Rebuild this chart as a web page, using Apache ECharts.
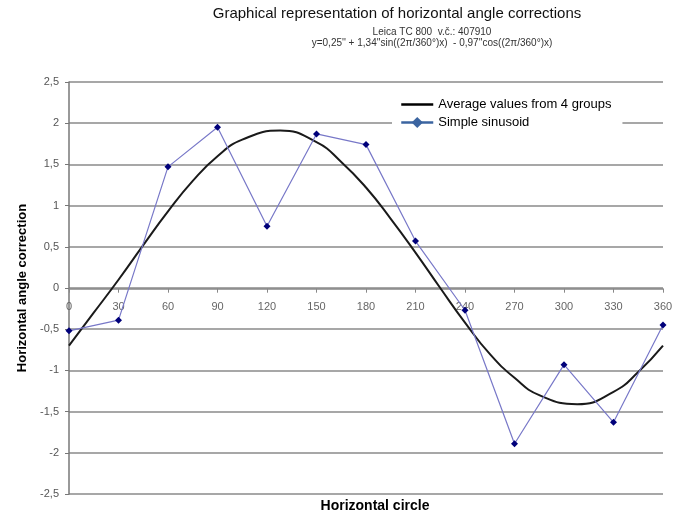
<!DOCTYPE html>
<html>
<head>
<meta charset="utf-8">
<script src="https://cdn.jsdelivr.net/npm/echarts@6/dist/echarts.min.js"></script>
<style>
  html, body { margin: 0; padding: 0; background: #fff; }
  #main { width: 677px; height: 513px; }
</style>
</head>
<body>
<div id="main"></div>
<script>
// measured points (every 30 degrees)
var measAngles = [0, 30, 60, 90, 120, 150, 180, 210, 240, 270, 300, 330, 360];
var measValues = [-0.52, -0.39, 1.47, 1.95, 0.75, 1.87, 1.74, 0.57, -0.27, -1.89, -0.93, -1.63, -0.45];

// fitted curve (peak ~128, trough ~308)
var curveAngles = [0, 15, 30, 45, 60, 75, 90, 105, 128, 150, 165, 180,
  195, 210, 225, 240, 255, 270, 285, 308, 330, 345, 360];
var curveValues = [-0.70, -0.30, 0.10, 0.52, 0.93, 1.30, 1.60, 1.80, 1.91, 1.77, 1.53, 1.22,
  0.84, 0.43, 0.00, -0.42, -0.80, -1.09, -1.30, -1.41, -1.26, -1.02, -0.70];

var chartDom = document.getElementById('main');
var myChart = echarts.init(chartDom);
var font = 'Arial, "Liberation Sans", sans-serif';

function pairs(xs, ys) {
  var out = [];
  for (var i = 0; i < xs.length; i++) out.push([xs[i], ys[i]]);
  return out;
}

var option = {
  animation: false,
  textStyle: { fontFamily: font },
  title: [
    {
      text: 'Graphical representation of horizontal angle corrections',
      left: 397, top: 6, padding: 0, textAlign: 'center',
      textStyle: { fontSize: 15, fontWeight: 'normal', color: '#111', fontFamily: font }
    },
    {
      text: 'Leica TC 800  v.č.: 407910\ny=0,25\'\' + 1,34\'\'sin((2π/360°)x)  - 0,97\'\'cos((2π/360°)x)',
      left: 432, top: 27, padding: 0, textAlign: 'center',
      textStyle: { fontSize: 10, lineHeight: 11, fontWeight: 'normal', color: '#333', fontFamily: font }
    },
    {
      text: 'Horizontal circle',
      left: 375, top: 499, padding: 0, textAlign: 'center',
      textStyle: { fontSize: 14, fontWeight: 'bold', color: '#000', fontFamily: font }
    }
  ],
  legend: {
    orient: 'vertical',
    left: 392,
    top: 94,
    padding: [4, 11, 4, 8],
    itemGap: 5,
    itemWidth: 32,
    itemHeight: 14,
    backgroundColor: '#fff',
    textStyle: { fontSize: 13, color: '#000', fontFamily: font },
    data: [
      {
        name: 'Average values from 4 groups',
        lineStyle: { color: '#000', width: 2.5 },
        itemStyle: { opacity: 0 }
      },
      {
        name: 'Simple sinusoid',
        lineStyle: { color: '#3b64a0', width: 2.5 },
        itemStyle: { color: '#3b64a0' }
      }
    ]
  },
  grid: [
    { left: 69, right: 14, top: 82, bottom: 19 },
    // upper half only: its bottom edge is the zero line, used for the angle labels
    { left: 69, right: 14, top: 82, bottom: 224.3 }
  ],
  xAxis: [
    {
      type: 'value',
      min: 0,
      max: 360,
      interval: 30,
      axisLine: { show: false },
      axisTick: { show: false },
      axisLabel: { show: false },
      splitLine: { show: false }
    },
    {
      type: 'value',
      gridIndex: 1,
      position: 'bottom',
      min: 0,
      max: 360,
      interval: 30,
      axisLine: { show: true, onZero: false, lineStyle: { color: '#888', width: 1.5 } },
      axisTick: { show: true, length: 4, lineStyle: { color: '#888' } },
      axisLabel: { fontSize: 11, color: '#666', margin: 13, fontFamily: font },
      splitLine: { show: false }
    }
  ],
  yAxis: [
    {
      type: 'value',
      min: -2.5,
      max: 2.5,
      interval: 0.5,
      name: 'Horizontal angle correction',
      nameLocation: 'middle',
      nameGap: 40,
      nameTextStyle: { fontSize: 13, fontWeight: 'bold', color: '#000', fontFamily: font },
      axisLine: { show: true, onZero: false, lineStyle: { color: '#777', width: 1.5 } },
      axisTick: { show: true, length: 4, lineStyle: { color: '#777' } },
      axisLabel: {
        fontSize: 11, color: '#555', margin: 10, fontFamily: font,
        formatter: function (v) { return String(v).replace('.', ','); }
      },
      splitLine: { show: true, lineStyle: { color: '#8a8a8a', width: 1.5 } }
    },
    {
      type: 'value',
      gridIndex: 1,
      min: 0,
      max: 2.5,
      show: false
    }
  ],
  series: [
    {
      name: 'Average values from 4 groups',
      type: 'line',
      smooth: true,
      showSymbol: false,
      symbol: 'none',
      data: pairs(curveAngles, curveValues),
      lineStyle: { color: '#1a1a1a', width: 2 },
      itemStyle: { color: '#1a1a1a' },
      z: 3
    },
    {
      name: 'Simple sinusoid',
      type: 'line',
      symbol: 'diamond',
      symbolSize: 7,
      data: pairs(measAngles, measValues),
      lineStyle: { color: '#7878c8', width: 1.2 },
      itemStyle: { color: '#00007a' },
      z: 4
    }
  ]
};

myChart.setOption(option);
</script>
</body>
</html>
